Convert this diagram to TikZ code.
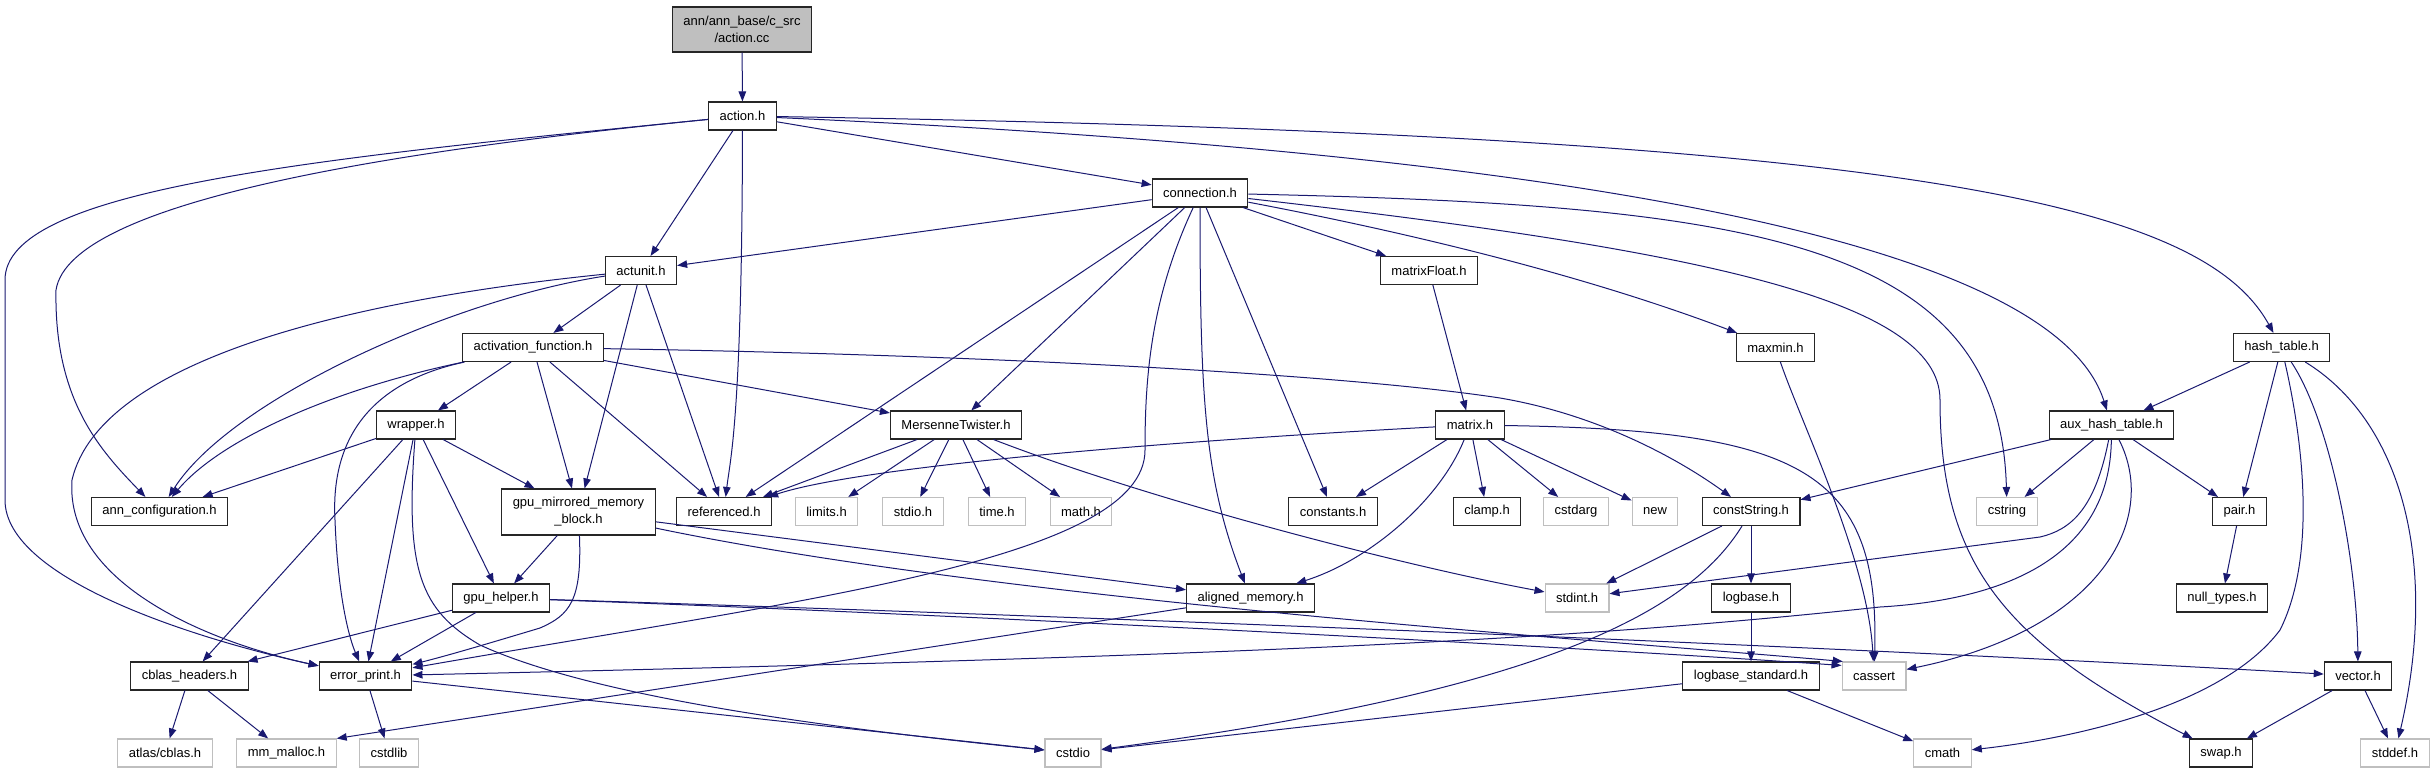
\documentclass[tikz,border=0pt]{standalone}
\usepackage{fontspec}
\setmainfont{Liberation Sans}
\usepackage{tikz}
\usetikzlibrary{arrows.meta}
\definecolor{midnight}{HTML}{191970}
\definecolor{lightgrey}{HTML}{BFBFBF}

\begin{document}
\begin{tikzpicture}[x=1pt, y=-1pt,
  file/.style={draw=black!85, line width=1.1pt, fill=white, font=\fontsize{13}{17}\selectfont,
    inner xsep=11pt, inner ysep=0pt, minimum height=28pt},
  sys/.style={file, draw=lightgrey},
  mainfile/.style={file, fill=lightgrey, align=center, minimum height=45pt},
  twoline/.style={file, align=center, minimum height=46pt},
  dep/.style={midnight, line width=1pt, -{Triangle[length=10pt,width=7.5pt]}}]
  \useasboundingbox (0,0) rectangle (2432,773);

  % files, row by row
  \node[mainfile] (actioncc) at (742,29.5) {ann/ann\_base/c\_src\\/action.cc};
  \node[file] (actionh) at (742.5,116) {action.h};
  \node[file] (connection) at (1200,193) {connection.h};
  \node[file] (actunit) at (641,270.5) {actunit.h};
  \node[file] (matrixfloat) at (1429,270.5) {matrixFloat.h};
  \node[file] (actfun) at (533,347.5) {activation\_function.h};
  \node[file] (maxmin) at (1775.5,347.5) {maxmin.h};
  \node[file] (hashtable) at (2281.5,347.5) {hash\_table.h};
  \node[file] (wrapper) at (416,425) {wrapper.h};
  \node[file] (mersenne) at (956,425) {MersenneTwister.h};
  \node[file] (matrix) at (1470,425) {matrix.h};
  \node[file] (auxhash) at (2111.5,425) {aux\_hash\_table.h};
  \node[file] (annconf) at (159.5,511.5) {ann\_configuration.h};
  \node[twoline] (gpumirror) at (578.5,512) {gpu\_mirrored\_memory\\\_block.h};
  \node[file] (referenced) at (724,511.5) {referenced.h};
  \node[sys] (limits) at (826.5,511.5) {limits.h};
  \node[sys] (stdio) at (913,511.5) {stdio.h};
  \node[sys] (timeh) at (997,511.5) {time.h};
  \node[sys] (mathh) at (1081,511.5) {math.h};
  \node[file] (constants) at (1333,511.5) {constants.h};
  \node[file] (clamp) at (1487,511.5) {clamp.h};
  \node[sys] (cstdarg) at (1576,511.5) {cstdarg};
  \node[sys] (cppnew) at (1655,511.5) {new};
  \node[file] (conststring) at (1751,511.5) {constString.h};
  \node[sys] (cstring) at (2007,511.5) {cstring};
  \node[file] (pair) at (2239.5,511.5) {pair.h};
  \node[file] (gpuhelper) at (501,598) {gpu\_helper.h};
  \node[file] (aligned) at (1250.5,598) {aligned\_memory.h};
  \node[sys] (stdint) at (1577,598) {stdint.h};
  \node[file] (logbase) at (1751,598) {logbase.h};
  \node[file] (nulltypes) at (2222,598) {null\_types.h};
  \node[file] (cblas) at (189.5,676) {cblas\_headers.h};
  \node[file] (errorprint) at (365.5,676) {error\_print.h};
  \node[file] (logbasestd) at (1751,676) {logbase\_standard.h};
  \node[sys] (cassert) at (1874,676) {cassert};
  \node[file] (vector) at (2358,676) {vector.h};
  \node[sys] (atlas) at (165,753) {atlas/cblas.h};
  \node[sys] (mmmalloc) at (286.5,753) {mm\_malloc.h};
  \node[sys] (cstdlib) at (389,753) {cstdlib};
  \node[sys] (cstdio) at (1073,753) {cstdio};
  \node[sys] (cmath) at (1942.5,753) {cmath};
  \node[file] (swap) at (2221,753) {swap.h};
  \node[sys] (stddef) at (2395,753) {stddef.h};

  % action.cc, action.h
  \draw[dep] (actioncc) -- (actionh);
  \draw[dep] (actionh) -- (actunit);
  \draw[dep] (actionh) .. controls (742,420) and (730,460) .. (referenced);
  \draw[dep] (actionh) -- (connection);
  \draw[dep] (actionh) .. controls (1900,135) and (2200,200) .. (hashtable);
  \draw[dep] (actionh) .. controls (1500,150) and (2050,230) .. (auxhash);
  \draw[dep] (actionh) .. controls (400,150) and (70,200) .. (56,290)
    .. controls (54,400) and (100,450) .. (annconf);
  \draw[dep] (actionh) .. controls (300,160) and (5,190) .. (5,280) -- (5,500)
    .. controls (5,580) and (200,640) .. (errorprint);

  % actunit.h
  \draw[dep] (actunit) -- (actfun);
  \draw[dep] (actunit) -- (gpumirror);
  \draw[dep] (actunit) -- (referenced);
  \draw[dep] (actunit) .. controls (450,300) and (230,400) .. (annconf);
  \draw[dep] (actunit) .. controls (350,300) and (100,360) .. (72,480)
    .. controls (65,580) and (200,640) .. (errorprint);

  % activation_function.h
  \draw[dep] (actfun) .. controls (330,390) and (220,440) .. (annconf);
  \draw[dep] (actfun) .. controls (380,380) and (330,430) .. (335,520)
    .. controls (338,600) and (350,640) .. (errorprint);
  \draw[dep] (actfun) -- (wrapper);
  \draw[dep] (actfun) -- (gpumirror);
  \draw[dep] (actfun) -- (referenced);
  \draw[dep] (actfun) -- (mersenne);
  \draw[dep] (actfun) .. controls (1000,355) and (1350,375) .. (1500,398)
    .. controls (1600,415) and (1680,460) .. (conststring);

  % wrapper.h
  \draw[dep] (wrapper) -- (annconf);
  \draw[dep] (wrapper) -- (gpumirror);
  \draw[dep] (wrapper) -- (gpuhelper);
  \draw[dep] (wrapper) -- (errorprint);
  \draw[dep] (wrapper) -- (cblas);
  \draw[dep] (wrapper) .. controls (405,570) and (420,610) .. (480,645)
    .. controls (600,700) and (850,730) .. (cstdio);

  % gpu_mirrored_memory_block.h, gpu_helper.h
  \draw[dep] (gpumirror) -- (gpuhelper);
  \draw[dep] (gpumirror) .. controls (582,600) and (570,615) .. (540,628)
    .. controls (500,640) and (450,655) .. (errorprint);
  \draw[dep] (gpumirror) -- (aligned);
  \draw[dep] (gpumirror) .. controls (1000,600) and (1600,640) .. (cassert.155);
  \draw[dep] (gpuhelper) -- (cblas);
  \draw[dep] (gpuhelper) -- (errorprint);
  \draw[dep] (gpuhelper) .. controls (900,612) and (1550,645) .. (cassert.162);
  \draw[dep] (gpuhelper) .. controls (1200,620) and (1900,650) .. (vector);

  % cblas_headers.h, error_print.h, aligned_memory.h
  \draw[dep] (cblas) -- (atlas);
  \draw[dep] (cblas) -- (mmmalloc);
  \draw[dep] (errorprint) -- (cstdlib);
  \draw[dep] (errorprint) -- (cstdio);
  \draw[dep] (aligned) -- (mmmalloc.north east);

  % connection.h
  \draw[dep] (connection) -- (actunit);
  \draw[dep] (connection) -- (referenced);
  \draw[dep] (connection) -- (mersenne);
  \draw[dep] (connection) .. controls (1150,300) and (1145,380) .. (1145,450)
    .. controls (1145,560) and (800,600) .. (errorprint);
  \draw[dep] (connection) .. controls (1200,400) and (1205,480) .. (aligned);
  \draw[dep] (connection) -- (constants);
  \draw[dep] (connection) -- (matrixfloat);
  \draw[dep] (connection) .. controls (1500,250) and (1650,300) .. (maxmin);
  \draw[dep] (connection) .. controls (1750,205) and (2000,240) .. (cstring);
  \draw[dep] (connection) .. controls (1700,250) and (1940,300) .. (1940,400)
    .. controls (1940,560) and (2000,640) .. (swap);

  % MersenneTwister.h
  \draw[dep] (mersenne) -- (referenced);
  \draw[dep] (mersenne) -- (limits);
  \draw[dep] (mersenne) -- (stdio);
  \draw[dep] (mersenne) -- (timeh);
  \draw[dep] (mersenne) -- (mathh);
  \draw[dep] (mersenne) .. controls (1150,500) and (1400,565) .. (stdint);

  % matrixFloat.h, matrix.h, maxmin.h
  \draw[dep] (matrixfloat) -- (matrix);
  \draw[dep] (matrix) .. controls (1100,445) and (850,470) .. (referenced);
  \draw[dep] (matrix) -- (constants);
  \draw[dep] (matrix) .. controls (1440,500) and (1370,560) .. (aligned);
  \draw[dep] (matrix) -- (clamp);
  \draw[dep] (matrix) -- (cstdarg);
  \draw[dep] (matrix) -- (cppnew);
  \draw[dep] (matrix) .. controls (1800,430) and (1880,470) .. (cassert);
  \draw[dep] (maxmin) .. controls (1800,420) and (1868,560) .. (cassert);

  % hash_table.h, aux_hash_table.h
  \draw[dep] (hashtable) -- (auxhash);
  \draw[dep] (hashtable) -- (pair);
  \draw[dep] (hashtable) .. controls (2305,450) and (2315,560) .. (2280,630)
    .. controls (2220,710) and (2060,740) .. (cmath);
  \draw[dep] (hashtable) .. controls (2330,420) and (2357,560) .. (vector);
  \draw[dep] (hashtable) .. controls (2400,420) and (2440,560) .. (stddef);
  \draw[dep] (auxhash) -- (conststring);
  \draw[dep] (auxhash) -- (cstring);
  \draw[dep] (auxhash) -- (pair);
  \draw[dep] (auxhash) .. controls (2095,510) and (2070,530) .. (2040,537) -- (stdint);
  \draw[dep] (auxhash) .. controls (2110,560) and (2000,600) .. (1880,607)
    .. controls (1600,637) and (1300,655) .. (errorprint);
  \draw[dep] (auxhash) .. controls (2160,520) and (2100,630) .. (cassert);

  % constString.h and below
  \draw[dep] (conststring) -- (stdint);
  \draw[dep] (conststring) -- (logbase);
  \draw[dep] (conststring) .. controls (1690,610) and (1550,690) .. (cstdio);
  \draw[dep] (logbase) -- (logbasestd);
  \draw[dep] (logbasestd) -- (cmath);
  \draw[dep] (logbasestd) -- (cstdio);
  \draw[dep] (pair) -- (nulltypes);
  \draw[dep] (vector) -- (swap);
  \draw[dep] (vector) -- (stddef);
\end{tikzpicture}
\end{document}
